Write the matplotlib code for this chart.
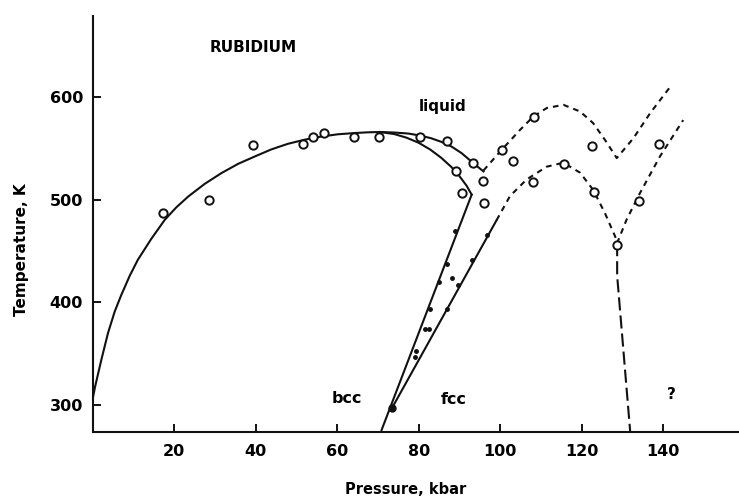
import numpy as np
import matplotlib
matplotlib.use("Agg")
import matplotlib.pyplot as plt

# melting curve, bcc branch (solid, from 1 atm up to the bcc-fcc-liquid region)
melt_P = [0, 0.6, 2.1, 3.75, 5.4, 7.0, 9.1, 11.1, 14.4, 17.7, 20.5, 23.4, 27.5, 31.6,
          35.7, 39.8, 43.8, 47.9, 52, 56.1, 60.2, 64.3, 67.5, 70.5,
          74, 77.5, 80.4, 83, 85.5, 88, 90.5, 93.4, 95.9]
melt_T = [306, 318, 343.6, 370, 391, 407, 426, 441.6, 462, 480.5, 492.5, 503, 515.5, 526,
          535, 542.2, 549, 554.5, 558.5, 561.6, 563.8, 565, 565.7, 566,
          565.5, 564.5, 562.5, 560, 556.5, 552, 545.5, 535.7, 527.6]

# inner branch of the melting curve
inner_P = [70.5, 74, 77, 80, 82.8, 85.5, 88, 90, 91.7, 93]
inner_T = [566, 564, 560.5, 555.5, 549, 541, 532, 523, 514, 505]

# bcc / fcc phase lines
bcc_P = [70.9, 93]
bcc_T = [275.7, 505]
fcc_P = [73.4, 99.1]
fcc_T = [296.7, 480]

# dashed (tentative) boundaries
upper_P = [95.9, 100, 104.9, 108.1, 111.4, 115.5, 119.6, 122.8, 125.7, 128.6,
           132.7, 136.8, 142.1]
upper_T = [528.5, 547, 568.2, 581, 589.3, 592.5, 586, 574.7, 558.4, 540.6,
           560, 584.4, 612]
lower_P = [99.1, 102.4, 106.5, 111.4, 115.5, 119.6, 122.8, 125.7, 128.2, 128.7,
           131, 134.3, 139.2, 144.9]
lower_T = [480, 503.6, 519.8, 532.2, 536.1, 526.4, 509.7, 487, 464.3, 457.8,
           480.5, 506.5, 542.2, 577.6]
vert_P = [128.7, 128.7, 131.9]
vert_T = [457.8, 426, 274]

# measured melting points (open circles)
circ_P = [17.3, 28.5, 39.4, 51.7, 54.1, 56.8, 64.1, 70.3, 80.3, 86.9, 93.4, 89.1,
          95.7, 90.7, 96.0, 100.4, 103.1, 108.3, 108.1, 115.7, 122.5, 123.1, 128.6,
          134.0, 139.0]
circ_T = [487, 500, 553.6, 554.5, 561.6, 565.5, 561.6, 561, 561.6, 556.8, 535.7, 528.5,
          517.8, 507, 496.8, 548.7, 537.3, 581, 516.9, 535, 552.6, 508, 456,
          499, 554.5]

# transition points (small dots)
dot_P = [88.9, 86.9, 85.1, 82.8, 81.5, 82.6, 79.3, 79.1, 88.2, 96.7, 93.0, 89.7, 86.9]
dot_T = [469.6, 437.7, 420, 394, 374.5, 374.5, 352.9, 347, 423.3, 465.6, 441, 416.7, 394]
big_P = [73.4]
big_T = [296.7]

x_ticks = [20, 40, 60, 80, 100, 120, 140]
y_ticks = [300, 400, 500, 600]

plt.rcParams['font.family'] = 'DejaVu Sans'
plt.rcParams['font.weight'] = 'bold'

fig = plt.figure(figsize=(7.39, 4.98), dpi=100)
ax = fig.add_axes([0.1254, 0.1331, 0.8746, 0.8347])

k = '#111111'
lw = 1.5
ax.plot(melt_P, melt_T, color=k, lw=lw)
ax.plot(inner_P, inner_T, color=k, lw=lw)
ax.plot(bcc_P, bcc_T, color=k, lw=lw)
ax.plot(fcc_P, fcc_T, color=k, lw=lw)
ax.plot(upper_P, upper_T, color=k, lw=lw, linestyle=(0, (2.7, 2.4)))
ax.plot(lower_P, lower_T, color=k, lw=lw, linestyle=(0, (2.7, 2.4)))
ax.plot(vert_P, vert_T, color=k, lw=lw, linestyle=(0, (6.3, 2.4)))

ax.plot(circ_P, circ_T, 'o', ms=6, mfc='white', mec=k, mew=1.4)
ax.plot(dot_P, dot_T, 'o', ms=2.5, color=k)
ax.plot(big_P, big_T, 'o', ms=5, color=k)

ax.text(39.3, 648, 'RUBIDIUM', ha='center', va='center', fontsize=11, fontweight='bold')
ax.text(85.9, 591, 'liquid', ha='center', va='center', fontsize=11, fontweight='bold')
ax.text(62.3, 306.5, 'bcc', ha='center', va='center', fontsize=11.5, fontweight='bold')
ax.text(88.5, 305, 'fcc', ha='center', va='center', fontsize=11.5, fontweight='bold')
ax.text(142, 310, '?', ha='center', va='center', fontsize=11, fontweight='bold')

ax.set_xlim(0, 158.6)
ax.set_ylim(274, 679)
ax.set_xticks(x_ticks)
ax.set_yticks(y_ticks)
ax.tick_params(direction='in', length=5.5, width=1.4, labelsize=11.5, color=k)
ax.tick_params(axis='x', pad=9)
ax.tick_params(axis='y', pad=7)
for lab in ax.get_xticklabels() + ax.get_yticklabels():
    lab.set_fontweight('bold')
for s in ['top', 'right']:
    ax.spines[s].set_visible(False)
for s in ['left', 'bottom']:
    ax.spines[s].set_linewidth(1.5)
    ax.spines[s].set_color(k)

fig.text(405.8 / 739, 1 - 489 / 498, 'Pressure, kbar', ha='center', va='center',
         fontsize=10.5, fontweight='bold')
fig.text(22 / 739, 1 - 250 / 498, 'Temperature, K', ha='center', va='center',
         rotation=90, fontsize=11, fontweight='bold')

fig.savefig('out.png', dpi=100)
